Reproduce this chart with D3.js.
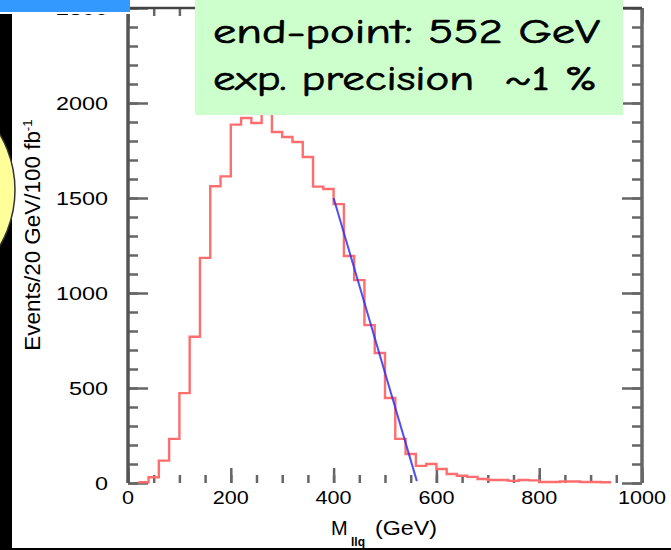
<!doctype html>
<html>
<head>
  <meta charset="utf-8">
  <style>
    body { margin: 0; background: #fff; }
    svg { display: block; }
    .lab { font-family: "Liberation Sans", Arial, sans-serif; fill: #000; }
    .note { font-family: "Comic Sans MS", "Comic Neue", "DejaVu Sans", sans-serif; font-size: 34px; fill: #000; stroke: #000; stroke-width: 0.7px; white-space: pre; }
  </style>
  <script src="https://cdn.jsdelivr.net/npm/d3@7/dist/d3.min.js"></script>
</head>
<body>
<script>
  // lower edge of each 20 GeV bin
  var binLow = [20, 40, 60, 80, 100, 120, 140, 160, 180, 200, 220, 240, 260, 280, 300, 320, 340, 360,
                380, 400, 420, 440, 460, 480, 500, 520, 540, 560, 580, 600, 620, 640, 660, 680, 700,
                720, 740, 760, 780, 800, 820, 840, 860, 880, 900, 920];
  var binWidth = 20;
  // events per bin
  var counts = [4, 30, 118, 232, 473, 770, 1185, 1562, 1614, 1886, 1921, 1895, 1975, 1847, 1821, 1795,
                1716, 1560, 1547, 1468, 1195, 1068, 831, 684, 447, 232, 153, 90, 100, 74, 47, 38, 32,
                21, 16, 16, 11, 16, 14, 5, 5, 8, 8, 5, 5, 4];
  // straight line fit to the falling edge
  var fitX = [400, 562];
  var fitY = [1500, 10];

  var xTicks = [0, 200, 400, 600, 800, 1000];
  var yTicks = [0, 500, 1000, 1500, 2000, 2500];

  var W = 671, H = 550;
  var svg = d3.select("body").append("svg").attr("width", W).attr("height", H);

  var x = d3.scaleLinear().domain([0, 1000]).range([128, 642]);
  var y = d3.scaleLinear().domain([0, 2500]).range([483, 8]);

  // ticks only, no domain path and no text
  function ticks(axis, tx, ty) {
    var g = svg.append("g")
      .attr("transform", "translate(" + tx + "," + ty + ")")
      .call(axis);
    g.select(".domain").remove();
    g.selectAll(".tick text").remove();
    g.selectAll(".tick line").attr("stroke", "#666").attr("stroke-width", 2.5);
  }

  // left and right (pointing inward)
  ticks(d3.axisRight(y).tickValues(yTicks).tickSize(20), x(0), 0);
  ticks(d3.axisRight(y).ticks(25).tickSize(10), x(0), 0);
  ticks(d3.axisLeft(y).tickValues(yTicks).tickSize(20), x(1000), 0);
  ticks(d3.axisLeft(y).ticks(25).tickSize(10), x(1000), 0);
  // bottom and top
  ticks(d3.axisTop(x).tickValues(xTicks).tickSize(15), 0, y(0));
  ticks(d3.axisTop(x).ticks(20).tickSize(8), 0, y(0));
  ticks(d3.axisBottom(x).tickValues(xTicks).tickSize(15), 0, y(2500));
  ticks(d3.axisBottom(x).ticks(20).tickSize(8), 0, y(2500));

  // frame
  svg.append("line").attr("x1", x(0)).attr("x2", x(0)).attr("y1", y(2500)).attr("y2", y(0))
    .attr("stroke", "#555").attr("stroke-width", 3.5);
  svg.append("line").attr("x1", x(1000)).attr("x2", x(1000)).attr("y1", y(2500)).attr("y2", y(0))
    .attr("stroke", "#666").attr("stroke-width", 3.5);
  svg.append("line").attr("x1", x(0)).attr("x2", x(1000)).attr("y1", y(2500)).attr("y2", y(2500))
    .attr("stroke", "#444").attr("stroke-width", 2.5);

  // tick labels
  svg.selectAll(".ylab").data(yTicks).enter().append("text")
    .attr("class", "lab")
    .attr("transform", function(d) { return "translate(108," + (y(d) + 6.5) + ") scale(1.3,1)"; })
    .attr("text-anchor", "end")
    .style("font-size", "18px")
    .text(function(d) { return d; });

  svg.selectAll(".xlab").data(xTicks).enter().append("text")
    .attr("class", "lab")
    .attr("transform", function(d) { return "translate(" + x(d) + ",504) scale(1.2,1)"; })
    .attr("text-anchor", "middle")
    .style("font-size", "18px")
    .text(function(d) { return d; });

  // axis titles
  var yt = svg.append("text").attr("class", "lab")
    .attr("transform", "translate(40,235) rotate(-90) scale(1.02,1)")
    .attr("text-anchor", "middle")
    .style("font-size", "22px");
  yt.append("tspan").text("Events/20 GeV/100 fb");
  yt.append("tspan").attr("dy", -8).style("font-size", "13px").text("-1");

  svg.append("text").attr("class", "lab").attr("x", 331).attr("y", 535)
    .style("font-size", "20px").text("M");
  svg.append("text").attr("class", "lab").attr("x", 351).attr("y", 546)
    .style("font-size", "12px").style("font-weight", "bold").text("llq");
  svg.append("text").attr("class", "lab").attr("x", 375).attr("y", 535)
    .style("font-size", "20px")
    .attr("textLength", 62).attr("lengthAdjust", "spacingAndGlyphs")
    .text("(GeV)");

  // histogram as a step line
  var pts = binLow.map(function(d, i) { return [d, counts[i]]; });
  pts.push([binLow[binLow.length - 1] + binWidth, counts[counts.length - 1]]);
  var step = d3.line()
    .x(function(d) { return x(d[0]); })
    .y(function(d) { return y(d[1]); })
    .curve(d3.curveStepAfter);
  svg.append("path").datum(pts)
    .attr("d", step)
    .attr("fill", "none")
    .attr("stroke", "#ff6e6e")
    .attr("stroke-width", 2.4);

  // fit line
  var fitPts = fitX.map(function(d, i) { return [d, fitY[i]]; });
  svg.append("path").datum(fitPts)
    .attr("d", d3.line().x(function(d) { return x(d[0]); }).y(function(d) { return y(d[1]); }))
    .attr("fill", "none")
    .attr("stroke", "#3030f0")
    .attr("stroke-opacity", 0.85)
    .attr("stroke-width", 2);

  // slide decorations over the plot
  svg.append("rect").attr("x", 195).attr("y", 0).attr("width", 428).attr("height", 115)
    .attr("fill", "#ccffcc");
  svg.append("text").attr("class", "note").attr("x", 213).attr("y", 43)
    .attr("textLength", 387).attr("lengthAdjust", "spacingAndGlyphs")
    .text("end-point: 552 GeV");
  svg.append("text").attr("class", "note").attr("x", 213).attr("y", 90)
    .attr("textLength", 384).attr("lengthAdjust", "spacingAndGlyphs")
    .text("exp. precision  ~1 %");

  svg.append("rect").attr("x", 0).attr("y", 0).attr("width", 130).attr("height", 12)
    .attr("fill", "#3399ff");
  svg.append("rect").attr("x", 0).attr("y", 12).attr("width", 130).attr("height", 2)
    .attr("fill", "#fff");
  svg.append("rect").attr("x", 0).attr("y", 14).attr("width", 12).attr("height", H - 14)
    .attr("fill", "#000");
  svg.append("rect").attr("x", 0).attr("y", 548).attr("width", W).attr("height", 2)
    .attr("fill", "#000");
  svg.append("circle").attr("cx", -95).attr("cy", 190).attr("r", 110)
    .attr("fill", "#ffff99").attr("stroke", "#333").attr("stroke-width", 1.5);
</script>
</body>
</html>
